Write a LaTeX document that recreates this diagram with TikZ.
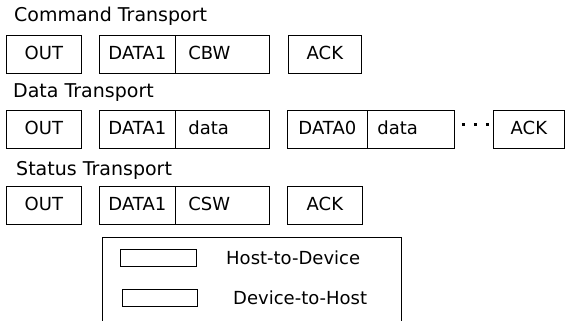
\documentclass[tikz,border=0pt]{standalone}
\usepackage{fontspec}
\setmainfont{DejaVu Sans}
\begin{document}
\begin{tikzpicture}[x=1pt,y=-1pt,
  lbl/.style={font=\fontsize{18}{20}\selectfont},
  ttl/.style={font=\fontsize{19}{21}\selectfont, inner sep=0pt, anchor=base west},
  pkt/.style={draw, line width=0.8pt, minimum height=38pt, inner sep=0pt, anchor=north west, lbl, text height=13pt, text depth=3pt},
  lpkt/.style={pkt, align=left, inner xsep=13pt},
  leg/.style={draw, line width=0.8pt, minimum height=17pt, inner sep=0pt, anchor=north west},
  dots/.style={line width=3pt, dash pattern=on 3pt off 9pt, shorten <=7pt, shorten >=2.5pt}]
\useasboundingbox (0,0) rectangle (565,321);
% titles
\node[ttl] (t1) at (14,22) {Command Transport};
\node[ttl] (t2) at (13,98) {Data Transport};
\node[ttl] (t3) at (16,175) {Status Transport};
% row 1
\node[pkt, minimum width=75pt] (o1) at (6,35) {OUT};
\node[pkt, minimum width=76pt] (a1) at (99,35) {DATA1};
\node[lpkt, text width=68pt] (b1) at (175,35) {CBW};
\node[pkt, minimum width=73pt] (k1) at (288,35) {ACK};
% row 2
\node[pkt, minimum width=75pt] (o2) at (6,110) {OUT};
\node[pkt, minimum width=76pt] (a2) at (99,110) {DATA1};
\node[lpkt, text width=68pt] (b2) at (175,110) {data};
\node[pkt, minimum width=80pt] (c2) at (287,110) {DATA0};
\node[pkt, align=left, inner xsep=10pt, text width=67pt] (d2) at (367,110) {data};
\node[pkt, minimum width=71pt] (k2) at (493,110) {ACK};
\draw[dots] ([yshift=5pt]d2.east) -- ([yshift=5pt]k2.west);
% row 3
\node[pkt, minimum width=75pt] (o3) at (6,186) {OUT};
\node[pkt, minimum width=76pt] (a3) at (99,186) {DATA1};
\node[lpkt, text width=68pt] (b3) at (175,186) {CSW};
\node[pkt, minimum width=75pt] (k3) at (287,186) {ACK};
% legend
\draw[line width=0.8pt] (102,321) -- (102,237) -- (401,237) -- (401,321);
\node[leg, minimum width=76pt] (h) at (120,249) {};
\node[leg, minimum width=75pt] (dv) at (122,289) {};
\node[lbl, anchor=west, inner sep=0pt] (ht) at (226,257.5) {Host-to-Device};
\node[lbl, anchor=west, inner sep=0pt] (dt) at (233,297.5) {Device-to-Host};
\end{tikzpicture}
\end{document}
